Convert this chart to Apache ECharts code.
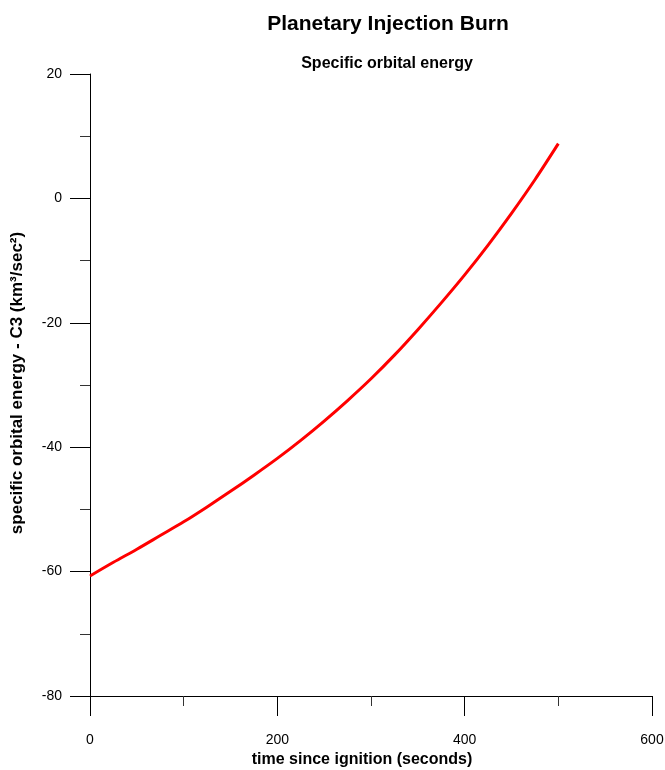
<!DOCTYPE html>
<html>
<head>
<meta charset="utf-8">
<script src="https://cdn.jsdelivr.net/npm/echarts@6/dist/echarts.min.js"></script>
<style>
html,body{margin:0;padding:0;background:#fff;}
#chart{width:665px;height:770px;}
</style>
</head>
<body>
<div id="chart"></div>
<script>
const timeSeconds = [0, 25, 50, 75, 100, 125, 150, 175, 200, 225, 250, 275, 300, 325, 350, 375, 400, 425, 450, 475, 500];
const c3Values = [-60.7, -58.5, -56.4, -54.2, -52.0, -49.6, -47.1, -44.5, -41.8, -38.9, -35.8, -32.5, -29.0, -25.2, -21.1, -16.8, -12.3, -7.5, -2.4, 3.0, 8.8];
const titleText = 'Planetary Injection Burn';
const subtitleText = 'Specific orbital energy';
const xName = 'time since ignition (seconds)';
const yName = 'specific orbital energy - C3 (km\u00B3/sec\u00B2)';

const chart = echarts.init(document.getElementById('chart'), null, {renderer: 'canvas'});
const font = 'Liberation Sans, Arial, sans-serif';
chart.setOption({
  backgroundColor: '#fff',
  animation: false,
  title: [
    {text: titleText, left: 383, top: 9, textAlign: 'center',
     textStyle: {fontFamily: font, fontSize: 21, fontWeight: 'bold', color: '#000'}},
    {text: subtitleText, left: 382, top: 51, textAlign: 'center',
     textStyle: {fontFamily: font, fontSize: 16, fontWeight: 'bold', color: '#000'}}
  ],
  grid: {left: 90, right: 13, top: 74, bottom: 74, containLabel: false, outerBoundsMode: 'none'},
  xAxis: {
    type: 'value', min: 0, max: 600, interval: 200,
    name: xName, nameLocation: 'middle', nameGap: 53,
    nameTextStyle: {fontFamily: font, fontSize: 16, fontWeight: 'bold', color: '#000', padding: [0, 18, 0, 0]},
    axisLine: {show: true, onZero: false, lineStyle: {color: '#000', width: 1}},
    axisTick: {show: true, length: 20, lineStyle: {color: '#000'}},
    minorTick: {show: true, splitNumber: 2, length: 10, lineStyle: {color: '#333'}},
    splitLine: {show: false},
    axisLabel: {fontFamily: font, fontSize: 14, color: '#000', margin: 37}
  },
  yAxis: {
    type: 'value', min: -80, max: 20, interval: 20,
    name: yName, nameLocation: 'middle', nameGap: 64, nameRotate: 90,
    nameTextStyle: {fontFamily: font, fontSize: 17, fontWeight: 'bold', color: '#000', padding: [0, 0, 0, 4]},
    axisLine: {show: true, onZero: false, lineStyle: {color: '#000', width: 1}},
    axisTick: {show: true, length: 20, lineStyle: {color: '#000'}},
    minorTick: {show: true, splitNumber: 2, length: 10, lineStyle: {color: '#333'}},
    splitLine: {show: false},
    axisLabel: {fontFamily: font, fontSize: 14, color: '#000', margin: 28}
  },
  series: [{
    type: 'line',
    data: timeSeconds.map((t, i) => [t, c3Values[i]]),
    smooth: 0.3,
    showSymbol: false,
    lineStyle: {color: '#ff0000', width: 3},
    itemStyle: {color: '#ff0000'}
  }]
});
</script>
</body>
</html>
